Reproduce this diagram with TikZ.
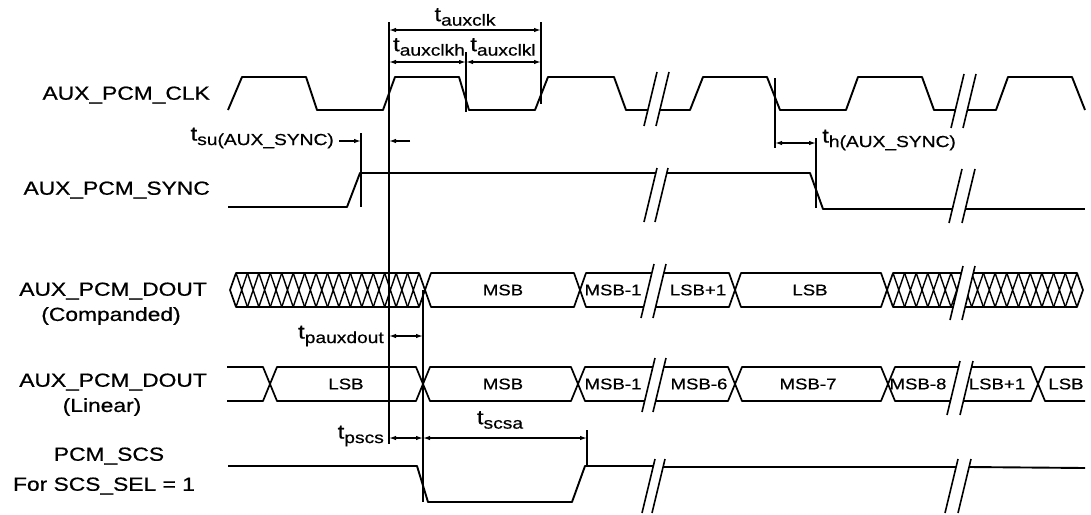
\documentclass[tikz,border=0pt]{standalone}
\usepackage{fontspec}
\setmainfont[FakeStretch=1.2,FakeBold=0.6]{Liberation Sans}
\usetikzlibrary{arrows.meta}
\newcommand\tlab[1]{{\fontsize{20}{20}\selectfont t}\raisebox{-4.5pt}{\fontsize{16}{16}\selectfont #1}}
\begin{document}
\begin{tikzpicture}[x=1pt,y=-1pt,
  wave/.style={line width=1.9pt, line join=round},
  bus/.style={line width=1.7pt, line join=round},
  hatchln/.style={line width=1.4pt},
  brk/.style={line width=1.6pt},
  vline/.style={line width=1.3pt},
  dim/.style={line width=1.3pt, {Latex[length=7pt,width=4.5pt]}-{Latex[length=7pt,width=4.5pt]}},
  onearrow/.style={line width=1.3pt, -{Latex[length=7pt,width=4.5pt]}},
  sig/.style={font=\fontsize{19}{21}\selectfont, inner sep=0pt},
  dat/.style={font=\fontsize{15.5}{17}\selectfont, inner sep=0pt},
  tl/.style={inner sep=0pt}
]
\useasboundingbox (0,0) rectangle (1091,514);

% signal names
\node[sig, anchor=east] (lclk) at (210,95) {AUX\_PCM\_CLK};
\node[sig, anchor=east] (lsync) at (210,190) {AUX\_PCM\_SYNC};
\node[sig, anchor=east] (ldc) at (207,291) {AUX\_PCM\_DOUT};
\node[sig] (ldc2) at (111,316) {(Companded)};
\node[sig, anchor=east] (ldl) at (207,382) {AUX\_PCM\_DOUT};
\node[sig] (ldl2) at (102,407) {(Linear)};
\node[sig] (lscs) at (109,456) {PCM\_SCS};
\node[sig] (lscs2) at (104,486) {For SCS\_SEL = 1};

% timing labels
\node[tl] (tauxclk) at (465,17) {\tlab{auxclk}};
\node[tl] (tauxclkh) at (429,47) {\tlab{auxclkh}};
\node[tl] (tauxclkl) at (503,47) {\tlab{auxclkl}};
\node[tl, anchor=east] (tsu) at (334,138) {\tlab{su(AUX\_SYNC)}};
\node[tl, anchor=west] (th) at (822,140) {\tlab{h(AUX\_SYNC)}};
\node[tl, anchor=east] (tpaux) at (384,336) {\tlab{pauxdout}};
\node[tl, anchor=east] (tpscs) at (384,436) {\tlab{pscs}};
\node[tl] (tscsa) at (500,420) {\tlab{scsa}};

% marker lines
\coordinate (v1t) at (389,22);  \coordinate (v1b) at (389,444);
\coordinate (v2t) at (466,52);  \coordinate (v2b) at (466,112);
\coordinate (v3t) at (541,22);  \coordinate (v3b) at (541,104);
\coordinate (v4t) at (361,133); \coordinate (v4b) at (361,207);
\coordinate (v5t) at (423,290); \coordinate (v5b) at (423,502);
\coordinate (v6t) at (587,430); \coordinate (v6b) at (587,466);
\coordinate (v7t) at (775,78);  \coordinate (v7b) at (775,148);
\coordinate (v8t) at (816,138); \coordinate (v8b) at (816,208);
\foreach \v in {v1,v2,v3,v4,v5,v6,v7,v8} \draw[vline] (\v t) -- (\v b);

% dimension arrows
\draw[dim] (389,30) -- (541,30);
\draw[dim] (389,62) -- (466,62);
\draw[dim] (466,62) -- (541,62);
\draw[onearrow] (339,141) -- (361,141);
\draw[onearrow] (410,141) -- (389,141);
\draw[dim] (775,143) -- (816,143);
\draw[dim] (389,336) -- (423,336);
\draw[dim] (389,438) -- (423,438);
\draw[dim] (423,438) -- (587,438);

% CLK
\draw[wave] (228,110) -- (242,77) -- (306,77) -- (317,110) -- (383,110) -- (395,77) -- (459,77) -- (469,110) -- (535,110) -- (548,77) -- (614,77) -- (626,110) -- (647.9,110);
\draw[wave] (659.9,110) -- (690,110) -- (703,77) -- (767,77) -- (780,110) -- (846,110) -- (858,77) -- (922,77) -- (934,110) -- (955.3,110);
\draw[wave] (967.3,110) -- (996,110) -- (1008,77) -- (1072,77) -- (1085,110);
\draw[brk] (644,126) -- (657,72) (656,126) -- (669,72) (951,128) -- (964,74) (963,128) -- (976,74);

% SYNC
\draw[wave] (228,207) -- (347,207) -- (360,173) -- (655.8,173);
\draw[wave] (666.8,173) -- (810,173) -- (823,209) -- (952.4,209);
\draw[wave] (965.4,209) -- (1085,209);
\draw[brk] (644,222) -- (657,168) (655,222) -- (668,168) (949,223) -- (962,169) (962,223) -- (975,169);

% DOUT companded
\draw[bus] (230,290) -- (236,273) -- (419,273) -- (425,290) -- (419,307) -- (236,307) -- cycle;
\foreach \k in {0,...,15} \draw[hatchln] ({236+\k*11.4375},273) -- ++(11.4375,34) ({236+\k*11.4375},307) -- ++(11.4375,-34);
\draw[bus] (425,290) -- (431,273) -- (574,273) -- (580,290) -- (574,307) -- (431,307) -- cycle;
\draw[bus] (643.6,307) -- (586,307) -- (580,290) -- (586,273) -- (651.8,273);
\draw[bus] (663.8,273) -- (729,273) -- (735,290) -- (729,307) -- (655.6,307);
\draw[bus] (735,290) -- (741,273) -- (881,273) -- (887,290) -- (881,307) -- (741,307) -- cycle;
\draw[bus] (961.3,273) -- (893,273) -- (887,290) -- (893,307) -- (953.1,307);
\begin{scope}
\clip (893,273) -- (961.3,273) -- (953.1,307) -- (893,307) -- cycle;
\foreach \k in {0,...,5} \draw[hatchln] ({893+\k*11.6},273) -- ++(11.6,34) ({893+\k*11.6},307) -- ++(11.6,-34);
\end{scope}
\draw[bus] (973.3,273) -- (1077,273) -- (1083,290) -- (1077,307) -- (965.1,307);
\begin{scope}
\clip (973.3,273) -- (1077,273) -- (1077,307) -- (965.1,307) -- cycle;
\foreach \k in {1,...,10} \draw[hatchln] ({1077-\k*11.7},273) -- ++(11.7,34) ({1077-\k*11.7},307) -- ++(11.7,-34);
\end{scope}
\draw[brk] (641,318) -- (654,264) (653,318) -- (666,264) (950,320) -- (963,266) (962,320) -- (975,266);
\node[dat] (cmsb) at (503,290) {MSB};
\node[dat] (cmsb1) at (613,290) {MSB-1};
\node[dat] (clsb1) at (698,290) {LSB+1};
\node[dat] (clsb) at (810,290) {LSB};

% DOUT linear
\draw[bus] (227,367) -- (263,367) -- (270,384) -- (263,401) -- (227,401);
\draw[bus] (270,384) -- (277,367) -- (416,367) -- (423,384) -- (416,401) -- (277,401) -- cycle;
\draw[bus] (423,384) -- (430,367) -- (571,367) -- (578,384) -- (571,401) -- (430,401) -- cycle;
\draw[bus] (652.8,367) -- (585,367) -- (578,384) -- (585,401) -- (644.6,401);
\draw[bus] (663.8,367) -- (728,367) -- (735,384) -- (728,401) -- (655.6,401);
\draw[bus] (735,384) -- (742,367) -- (881,367) -- (888,384) -- (881,401) -- (742,401) -- cycle;
\draw[bus] (958.6,367) -- (895,367) -- (888,384) -- (895,401) -- (950.4,401);
\draw[bus] (971.6,367) -- (1031,367) -- (1038,384) -- (1031,401) -- (963.4,401);
\draw[bus] (1085,367) -- (1045,367) -- (1038,384) -- (1045,401) -- (1085,401);
\draw[brk] (642,412) -- (655,358) (653,412) -- (666,358) (947,415) -- (960,361) (960,415) -- (973,361);
\node[dat] (llsb) at (346,384) {LSB};
\node[dat] (lmsb) at (503,384) {MSB};
\node[dat] (lmsb1) at (613,384) {MSB-1};
\node[dat] (lmsb6) at (699,384) {MSB-6};
\node[dat] (lmsb7) at (808,384) {MSB-7};
\node[dat] (lmsb8) at (918,384) {MSB-8};
\node[dat] (llsb1) at (997,384) {LSB+1};
\node[dat] (llsb2) at (1066,384) {LSB};

% PCM_SCS
\draw[wave] (228,466) -- (417,466) -- (428,502) -- (572,502) -- (585,466) -- (653.3,466);
\draw[wave] (663.1,467) -- (956.1,467);
\draw[wave] (969.1,467) -- (1085,468);
\draw[brk] (642,513) -- (655,459) (652,513) -- (665,459) (945,513) -- (958,459) (958,513) -- (971,459);
\end{tikzpicture}
\end{document}
